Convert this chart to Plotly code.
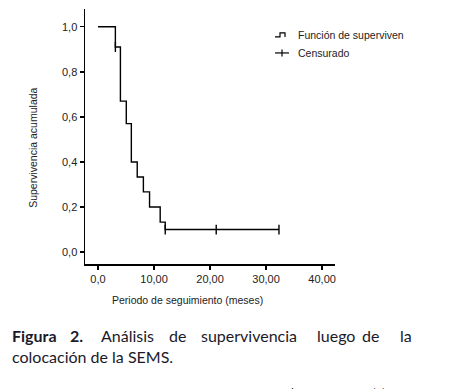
import plotly.graph_objects as go

# ---- data ----
times = [0, 3.1, 4.0, 5.05, 5.95, 7.0, 8.1, 9.2, 11.1, 12.0, 32.3]
survival = [1.0, 0.91, 0.67, 0.57, 0.40, 0.333, 0.267, 0.20, 0.133, 0.10, 0.10]
censor_times = [3.1, 12.0, 21.1, 32.3]
censor_surv = [0.91, 0.10, 0.10, 0.10]
x_tickvals = [0, 10, 20, 30, 40]
x_ticktext = ["0,0", "10,00", "20,00", "30,00", "40,00"]
y_tickvals = [0, 0.2, 0.4, 0.6, 0.8, 1.0]
y_ticktext = ["0,0", "0,2", "0,4", "0,6", "0,8", "1,0"]

W, H = 457, 389
L, R, T, B = 85, 335, 9, 264.3
ml, mr, mt, mb = L, W - R, T, H - B


def px(x):
    return (x - L) / (R - L)


def py(y):
    return (B - y) / (B - T)


fig = go.Figure()
fig.add_trace(go.Scatter(x=times, y=survival, mode="lines", line=dict(shape="hv", color="black", width=1.4),
                         showlegend=False, hoverinfo="skip"))
fig.add_trace(go.Scatter(x=censor_times, y=censor_surv, mode="markers",
                         marker=dict(symbol="line-ns", size=7, line=dict(color="black", width=1.4)),
                         showlegend=False, hoverinfo="skip"))

tickfont = dict(family="Liberation Sans, Arial", size=11, color="#222222")
fig.update_xaxes(range=[-2.32, 42.3], tickvals=x_tickvals, ticktext=x_ticktext, ticks="outside", ticklen=4,
                 tickwidth=1.3, tickcolor="black", showline=True, linecolor="black", linewidth=1.5,
                 showgrid=False, zeroline=False, tickfont=tickfont)
fig.update_yaxes(range=[-0.053, 1.079], tickvals=y_tickvals, ticktext=y_ticktext, ticks="outside", ticklen=4,
                 tickwidth=1.3, tickcolor="black", showline=True, linecolor="black", linewidth=1.5,
                 showgrid=False, zeroline=False, tickfont=tickfont)

small = dict(family="Liberation Sans, Arial", size=10.5, color="#222222")
ann = []
ann.append(dict(x=px(33), y=py(148), xref="paper", yref="paper", text="Supervivencia acumulada",
                textangle=-90, showarrow=False, font=small, xanchor="center", yanchor="middle"))
ann.append(dict(x=px(187), y=py(300), xref="paper", yref="paper", text="Periodo de seguimiento (meses)",
                showarrow=False, font=small, xanchor="center", yanchor="middle"))
ann.append(dict(x=px(296), y=py(35), xref="paper", yref="paper", text="Función de superviven",
                showarrow=False, font=small, xanchor="left", yanchor="middle"))
ann.append(dict(x=px(296), y=py(53), xref="paper", yref="paper", text="Censurado",
                showarrow=False, font=small, xanchor="left", yanchor="middle"))

cap = dict(family="Lato, Open Sans", size=16, color="#1a1a2a")
words = [("<b>Figura</b>", 10), ("<b>2.</b>", 68), ("Análisis", 99), ("de", 167), ("supervivencia", 199),
         ("luego", 315), ("de", 360), ("la", 398)]
for w, xx in words:
    ann.append(dict(x=px(xx), y=py(336), xref="paper", yref="paper", text=w, showarrow=False,
                    font=cap, xanchor="left", yanchor="middle"))
ann.append(dict(x=px(10), y=py(357), xref="paper", yref="paper", text="colocación de la SEMS.",
                showarrow=False, font=cap, xanchor="left", yanchor="middle"))
ann.append(dict(x=px(197), y=py(393), xref="paper", yref="paper",
                text="Rev Gastroenterol Peru; 2010;30(2):116-22     119",
                showarrow=False, font=dict(family="Lato, Open Sans", size=12, color="#1a1a2a"),
                xanchor="left", yanchor="middle"))

shapes = [
    dict(type="path", xref="paper", yref="paper",
         path=f"M {px(275)},{py(37)} L {px(280)},{py(37)} L {px(280)},{py(33)} L {px(285)},{py(33)} L {px(285)},{py(37)}",
         line=dict(color="black", width=1.2)),
    dict(type="line", xref="paper", yref="paper", x0=px(275), x1=px(289), y0=py(53), y1=py(53),
         line=dict(color="black", width=1.2)),
    dict(type="line", xref="paper", yref="paper", x0=px(282), x1=px(282), y0=py(49.5), y1=py(56.5),
         line=dict(color="black", width=1.2)),
]

fig.update_layout(width=W, height=H, margin=dict(l=ml, r=mr, t=mt, b=mb, pad=0),
                  paper_bgcolor="white", plot_bgcolor="white", annotations=ann, shapes=shapes)
fig.write_html("out.html", config={"displayModeBar": False, "staticPlot": True},
               post_script="document.body.style.margin='0';document.body.style.overflow='hidden';")
